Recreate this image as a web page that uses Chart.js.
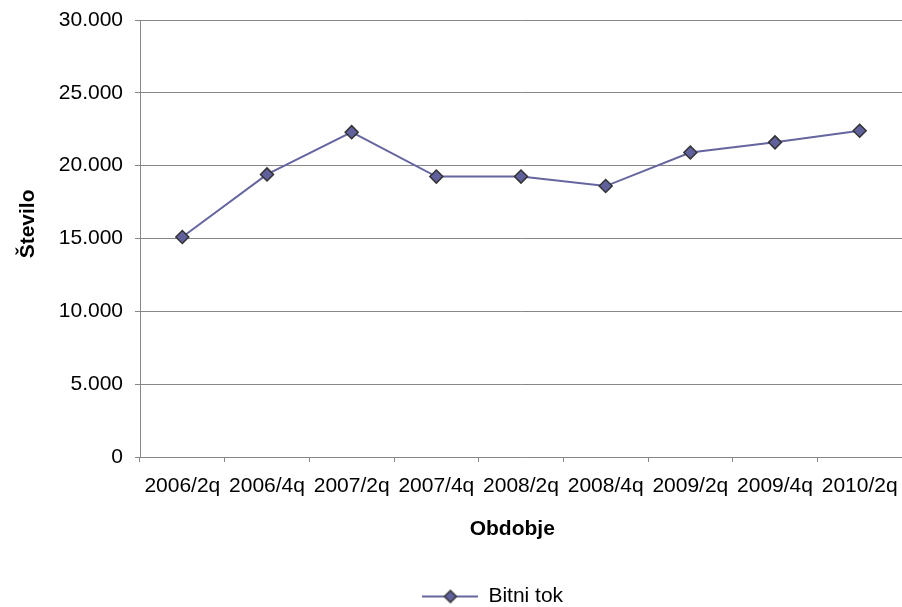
<!DOCTYPE html>
<html>
<head>
<meta charset="utf-8">
<script src="https://cdn.jsdelivr.net/npm/chart.js@4/dist/chart.umd.min.js"></script>
<style>
  html, body { margin: 0; padding: 0; background: #fff; }
  #wrap { width: 902px; height: 607px; }
</style>
</head>
<body>
<div id="wrap"><canvas id="lineGraph" width="902" height="607"></canvas></div>
<script>
const categories = ['2006/2q', '2006/4q', '2007/2q', '2007/4q', '2008/2q', '2008/4q', '2009/2q', '2009/4q', '2010/2q']
const bitniTok = [15100, 19400, 22300, 19250, 19250, 18600, 20900, 21600, 22400]
const seriesName = 'Bitni tok'
const yTitle = 'Število'
const xTitle = 'Obdobje'

const lineColor = '#65659f'
const markerFill = '#60609c'
const markerBorder = '#333333'
const gridColor = '#878787'
const font = 'Liberation Sans, Arial, sans-serif'

// legend symbol: line with a diamond in the middle
const legendSym = document.createElement('canvas')
legendSym.width = 56
legendSym.height = 16
const lc = legendSym.getContext('2d')
lc.strokeStyle = lineColor
lc.lineWidth = 2
lc.beginPath(); lc.moveTo(0, 8); lc.lineTo(56, 8); lc.stroke()
lc.fillStyle = markerFill
lc.strokeStyle = markerBorder
lc.lineWidth = 1.5
lc.beginPath(); lc.moveTo(28, 2); lc.lineTo(34, 8); lc.lineTo(28, 14); lc.lineTo(22, 8); lc.closePath()
lc.fill(); lc.stroke()

const fmt = v => String(v).replace(/\B(?=(\d{3})+(?!\d))/g, '.')

// push the legend down/right to where it sits in the original
const moveLegend = {
    id: 'moveLegend',
    afterLayout(chart) {
        const lg = chart.legend
        const dx = 42, dy = 34
        lg.left += dx; lg.right += dx
        lg.top += dy; lg.bottom += dy
    }
}

let ctx = document.querySelector('#lineGraph').getContext('2d')

let lineChart = new Chart(ctx, {
    type: 'line',
    data: {
        labels: categories,
        datasets: [{
            label: seriesName,
            data: bitniTok,
            borderColor: lineColor,
            borderWidth: 2,
            backgroundColor: markerFill,
            pointStyle: 'rectRot',
            pointRadius: 6.5,
            pointBorderColor: markerBorder,
            pointBorderWidth: 1.5,
            pointBackgroundColor: markerFill,
            tension: 0,
            clip: false
        }]
    },
    options: {
        responsive: false,
        animation: false,
        layout: { autoPadding: false, padding: { top: 20, left: 0, right: 0, bottom: 24 } },
        plugins: {
            legend: {
                position: 'bottom',
                labels: {
                    usePointStyle: true,
                    pointStyle: legendSym,
                    pointStyleWidth: 55,
                    padding: 10,
                    color: '#000',
                    font: { family: font, size: 21 },
                    generateLabels: () => [{
                        text: seriesName, pointStyle: legendSym, fillStyle: markerFill,
                        strokeStyle: lineColor, lineWidth: 0, datasetIndex: 0
                    }]
                }
            },
            tooltip: { enabled: false }
        },
        scales: {
            x: {
                offset: true,
                grid: { offset: true, drawOnChartArea: false, drawTicks: true, tickLength: 5, color: gridColor },
                border: { color: gridColor },
                ticks: { color: '#000', padding: 12, maxRotation: 0, autoSkip: false, font: { family: font, size: 21 } },
                title: { display: true, text: xTitle + '   ', color: '#000', padding: 0, font: { family: font, size: 21, weight: 'bold' } },
                afterFit: s => { s.height = 85; s.paddingLeft = 0; s.paddingRight = 0 }
            },
            y: {
                min: 0,
                max: 30000,
                ticks: { stepSize: 5000, color: '#000', padding: 12, font: { family: font, size: 21 }, callback: v => fmt(v) },
                grid: { color: gridColor, tickLength: 5 },
                border: { color: gridColor },
                title: { display: true, text: '     ' + yTitle, color: '#000', padding: { top: 16, bottom: 0 }, font: { family: font, size: 21, weight: 'bold' } },
                afterFit: s => { s.width = 140; s.paddingTop = 0; s.paddingBottom = 0 }
            }
        }
    },
    plugins: [moveLegend]
})
</script>
</body>
</html>
